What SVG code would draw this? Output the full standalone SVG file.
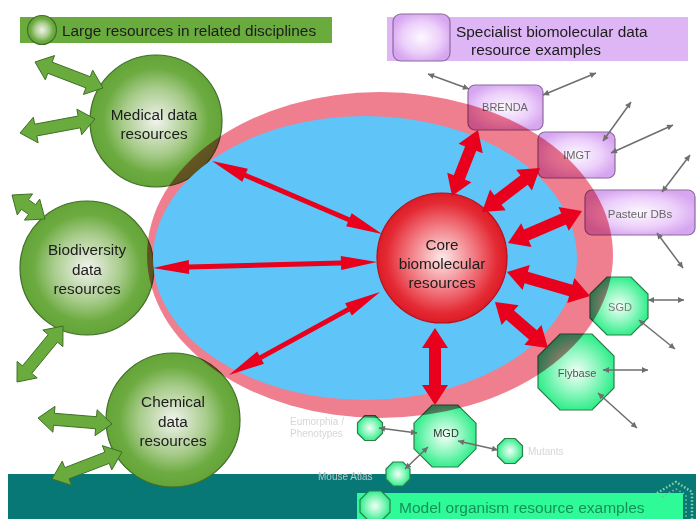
<svg xmlns="http://www.w3.org/2000/svg" width="696" height="519" viewBox="0 0 696 519">
<defs>
<radialGradient id="gGreen" cx="50%" cy="50%" r="50%">
<stop offset="0" stop-color="#f1f3ee"/><stop offset="0.5" stop-color="#a9cc8c"/><stop offset="0.8" stop-color="#6cab40"/><stop offset="1" stop-color="#64a438"/>
</radialGradient>
<radialGradient id="gRed" cx="50%" cy="50%" r="50%">
<stop offset="0" stop-color="#fdeaea"/><stop offset="0.5" stop-color="#f27a82"/><stop offset="0.85" stop-color="#e42a34"/><stop offset="1" stop-color="#dc1c26"/>
</radialGradient>
<radialGradient id="gPurple" cx="50%" cy="50%" r="55%">
<stop offset="0" stop-color="#fdf8ff"/><stop offset="0.6" stop-color="#ecd0fa"/><stop offset="1" stop-color="#d7a6f0"/>
</radialGradient>
<radialGradient id="gMint" cx="50%" cy="50%" r="50%">
<stop offset="0" stop-color="#f2fff7"/><stop offset="0.55" stop-color="#8ff7bf"/><stop offset="1" stop-color="#36ee8e"/>
</radialGradient>
<marker id="ga" viewBox="0 0 10 10" refX="10" refY="5" markerWidth="7" markerHeight="6" markerUnits="userSpaceOnUse" orient="auto-start-reverse">
<path d="M0,0 L10,5 L0,10 z" fill="#6e6e6e"/>
</marker>
</defs>
<style>
.lbl{font-family:"Liberation Sans",Arial,sans-serif;font-size:15.3px;fill:#1c1c1c;text-anchor:middle}
.leg{font-family:"Liberation Sans",Arial,sans-serif;font-size:15.4px;fill:#1c1c1c}
.sm{font-family:"Liberation Sans",Arial,sans-serif;font-size:11px;fill:#666;text-anchor:middle}
.faint{font-family:"Liberation Sans",Arial,sans-serif;font-size:10px;fill:#d6d6d6}
.gcirc{fill:url(#gGreen);stroke:#3f6e27;stroke-width:1.2}
.pbox{fill:url(#gPurple);stroke:#8c6a9c;stroke-width:1.2}
.oct{fill:url(#gMint);stroke:#2e7d4c;stroke-width:1.2}
.red{fill:#e8001c}
.grn{fill:#6aab3e;stroke:#3f6e27;stroke-width:1}
.gray{stroke:#6e6e6e;stroke-width:1.5;fill:none;marker-start:url(#ga);marker-end:url(#ga)}
.halo{mix-blend-mode:multiply}
</style>
<rect x="0" y="0" width="696" height="519" fill="#ffffff"/>
<!-- bottom band -->
<rect x="8" y="474" width="688" height="45" fill="#087876"/>
<!-- legends -->
<g id="legend-large">
<rect x="20" y="17" width="312" height="26" fill="#6aab3e"/>
<circle cx="42" cy="30" r="14.5" class="gcirc"/>
<text x="62" y="36" class="leg">Large resources in related disciplines</text>
</g>
<g id="legend-specialist">
<rect x="387" y="17" width="301" height="44" fill="#deb5f5"/>
<rect x="393" y="14" width="57" height="47" rx="8" class="pbox" stroke="#7e6290"/>
<text x="456" y="37" class="leg">Specialist biomolecular data</text>
<text x="471" y="55" class="leg">resource examples</text>
</g>
<g id="legend-model">
<rect x="357" y="493" width="326" height="26" fill="#2efb97"/>
<polygon points="368.8,491 381.2,491 390,499.8 390,512.2 381.2,521 368.8,521 360,512.2 360,499.8" class="oct"/>
<text x="399" y="513" class="leg" style="fill:#16905a;font-size:15.5px">Model organism resource examples</text>
<polyline points="657,493 676,482 692,492 692,519" fill="none" stroke="#8ad8a0" stroke-width="2.5" stroke-dasharray="1.5 2"/>
<polyline points="662,497 676,489 686,495 686,519" fill="none" stroke="#6cc090" stroke-width="1.8" stroke-dasharray="1.5 2.5"/>
</g>
<!-- large resource nodes -->
<g id="medical">
<circle cx="156" cy="121" r="66" class="gcirc"/>
<text x="154" y="120" class="lbl">Medical data</text>
<text x="154" y="139" class="lbl">resources</text>
</g>
<g id="biodiversity">
<circle cx="87" cy="268" r="67" class="gcirc"/>
<text x="87" y="255" class="lbl">Biodiversity</text>
<text x="87" y="275" class="lbl">data</text>
<text x="87" y="294" class="lbl">resources</text>
</g>
<g id="chemical">
<circle cx="173" cy="420" r="67" class="gcirc"/>
<text x="173" y="407" class="lbl">Chemical</text>
<text x="173" y="427" class="lbl">data</text>
<text x="173" y="446" class="lbl">resources</text>
</g>
<!-- specialist nodes -->
<g id="brenda">
<rect x="468" y="85" width="75" height="45" rx="7" class="pbox"/>
<text x="505" y="111" class="sm">BRENDA</text>
</g>
<g id="imgt">
<rect x="538" y="132" width="77" height="46" rx="7" class="pbox"/>
<text x="577" y="159" class="sm">IMGT</text>
</g>
<g id="pasteur">
<rect x="585" y="190" width="110" height="45" rx="7" class="pbox"/>
<text x="640" y="218" class="sm" style="font-size:11.5px">Pasteur DBs</text>
</g>
<!-- model organism nodes -->
<g id="sgd">
<polygon points="607,277 631,277 648,294 648,318 631,335 607,335 590,318 590,294" class="oct"/>
<text x="620" y="311" class="sm" style="fill:#777">SGD</text>
</g>
<g id="flybase">
<polygon points="560,334 592,334 614,356 614,388 592,410 560,410 538,388 538,356" class="oct"/>
<text x="577" y="377" class="sm" style="fill:#555">Flybase</text>
</g>
<g id="mgd">
<polygon points="432.2,405 457.8,405 476,423.2 476,448.8 457.8,467 432.2,467 414,448.8 414,423.2" class="oct"/>
<text x="446" y="437" class="sm" style="fill:#333">MGD</text>
</g>
<g id="eumorphia">
<polygon points="364.8,415.5 375.2,415.5 382.5,422.8 382.5,433.2 375.2,440.5 364.8,440.5 357.5,433.2 357.5,422.8" class="oct"/>
<text x="290" y="425" class="faint">Eumorphia /</text>
<text x="290" y="437" class="faint">Phenotypes</text>
</g>
<g id="mutants">
<polygon points="504.8,438.5 515.2,438.5 522.5,445.8 522.5,456.2 515.2,463.5 504.8,463.5 497.5,456.2 497.5,445.8" class="oct"/>
<text x="528" y="455" class="faint">Mutants</text>
</g>
<g id="mouse-atlas">
<polygon points="393,462 403,462 410,469 410,479 403,486 393,486 386,479 386,469" class="oct"/>
<text x="318" y="480" class="faint" style="fill:#b4caca">Mouse Atlas</text>
</g>
<!-- core region -->
<g id="core-region">
<ellipse cx="380" cy="255" rx="233" ry="163" fill="#ef7f8f" class="halo"/>
<ellipse cx="365" cy="258" rx="212" ry="142" fill="#5fc4f7"/>
</g>
<g id="core">
<circle cx="442" cy="258" r="65" fill="url(#gRed)" stroke="#b8101a" stroke-width="1.2"/>
<text x="442" y="250" class="lbl">Core</text>
<text x="442" y="269" class="lbl">biomolecular</text>
<text x="442" y="288" class="lbl">resources</text>
</g>
<!-- connectors -->
<g id="connectors">
<polygon class="red" points="212,161 242.32,181.64 244.09,177.51 347.93,222.09 346.16,226.22 382,234 351.68,213.36 349.91,217.49 246.07,172.91 247.84,168.78"/>
<polygon class="red" points="153,268 189.18,274.04 189.06,269.54 341.08,265.46 341.2,269.96 377,262 340.82,255.96 340.94,260.46 188.92,264.54 188.8,260.04"/>
<polygon class="red" points="229,375 263.92,363.79 261.75,359.85 349.65,311.53 351.82,315.47 380,292 345.08,303.21 347.25,307.15 259.35,355.47 257.18,351.53"/>
<polygon class="red" points="452,196 471.43,182.15 464.91,179.59 476.25,150.81 482.77,153.37 478,130 458.57,143.85 465.09,146.41 453.75,175.19 447.23,172.63"/>
<polygon class="red" points="482,212 505.79,210.27 501.56,204.69 527.7,184.87 531.93,190.45 540,168 516.21,169.73 520.44,175.31 494.3,195.13 490.07,189.55"/>
<polygon class="red" points="508,243 531.52,246.99 528.74,240.57 566.02,224.45 568.8,230.87 582,211 558.48,207.01 561.26,213.43 523.98,229.55 521.2,223.13"/>
<polygon class="red" points="507,272 522.6,290.05 524.54,283.32 569.12,296.2 567.18,302.93 590,296 574.4,277.95 572.46,284.68 527.88,271.8 529.82,265.07"/>
<polygon class="red" points="495,302 501.58,324.93 506.17,319.64 528.97,339.42 524.38,344.71 548,348 541.42,325.07 536.83,330.36 514.03,310.58 518.62,305.29"/>
<polygon class="red" points="435,328 422,348 429,348 429,385 422,385 435,405 448,385 441,385 441,348 448,348"/>
<polygon class="grn" points="35,62 45.31,79.85 47.81,73.31 85.91,87.89 83.41,94.43 103,88 92.69,70.15 90.19,76.69 52.09,62.11 54.59,55.57"/>
<polygon class="grn" points="20,133 38.12,142.84 36.83,135.96 80.37,127.84 81.66,134.72 95,119 76.88,109.16 78.17,116.04 34.63,124.16 33.34,117.28"/>
<polygon class="grn" points="12,195 17.29,214.92 21.41,209.26 28.53,214.44 24.41,220.1 45,219 39.71,199.08 35.59,204.74 28.47,199.56 32.59,193.9"/>
<polygon class="grn" points="63,326 42.79,330.11 48.2,334.55 22.52,365.83 17.11,361.39 17,382 37.21,377.89 31.8,373.45 57.48,342.17 62.89,346.61"/>
<polygon class="grn" points="38,418 52.9,432.25 53.47,425.27 95.57,428.69 95,435.67 112,424 97.1,409.75 96.53,416.73 54.43,413.31 55,406.33"/>
<polygon class="grn" points="52,479 71.61,485.37 69.09,478.84 109.23,463.36 111.75,469.89 122,452 102.39,445.63 104.91,452.16 64.77,467.64 62.25,461.11"/>
<line class="gray" x1="469" y1="89" x2="428" y2="74"/>
<line class="gray" x1="543" y1="95" x2="596" y2="73"/>
<line class="gray" x1="603" y1="141" x2="631" y2="102"/>
<line class="gray" x1="611" y1="153" x2="673" y2="125"/>
<line class="gray" x1="662" y1="192" x2="690" y2="155"/>
<line class="gray" x1="657" y1="233" x2="683" y2="268"/>
<line class="gray" x1="648" y1="300" x2="684" y2="300"/>
<line class="gray" x1="639" y1="320" x2="675" y2="349"/>
<line class="gray" x1="603" y1="370" x2="648" y2="370"/>
<line class="gray" x1="598" y1="393" x2="637" y2="428"/>
<line class="gray" x1="417" y1="433" x2="379" y2="428"/>
<line class="gray" x1="458" y1="441" x2="498" y2="450"/>
<line class="gray" x1="428" y1="447" x2="405" y2="469"/>
</g>
</svg>
